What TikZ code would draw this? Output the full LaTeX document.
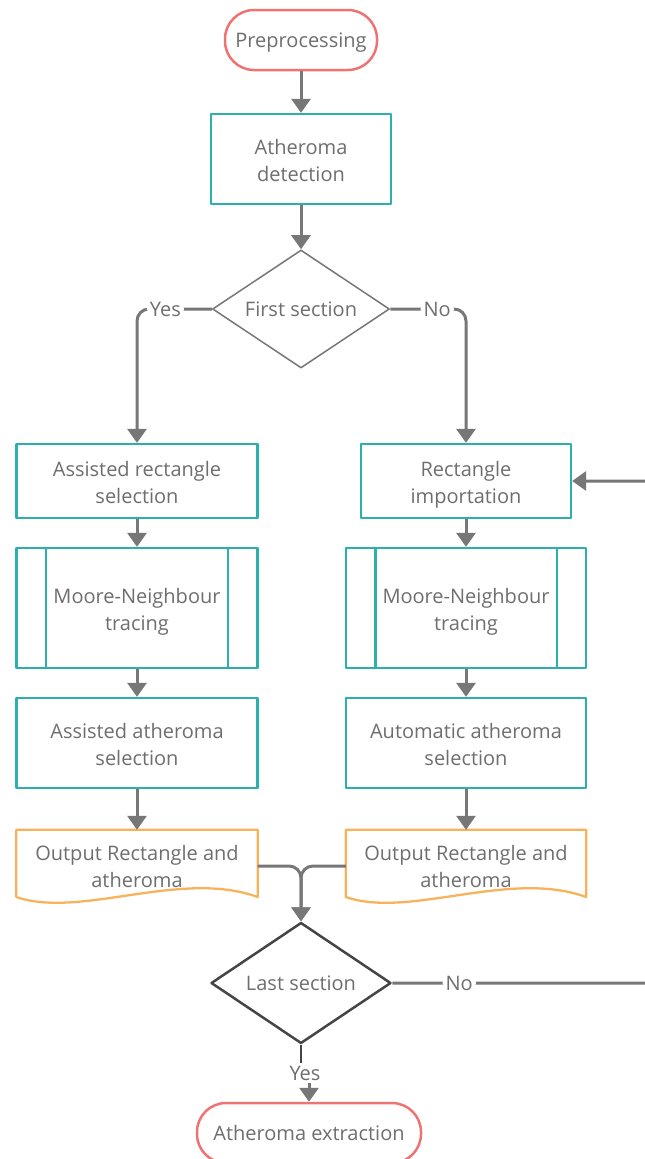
\documentclass[tikz,border=0pt]{standalone}
\usepackage{fontspec}
\setmainfont{Open Sans}
\usetikzlibrary{arrows.meta,shapes.geometric}
\definecolor{boxteal}{HTML}{2BB0AE}
\definecolor{termred}{HTML}{F07373}
\definecolor{docorange}{HTML}{F8B35A}
\definecolor{linegray}{HTML}{777777}
\definecolor{txtgray}{HTML}{6E6E6E}
\definecolor{darkline}{HTML}{454545}
\tikzset{
	term/.style={draw=termred, line width=2.5pt, rounded corners=29pt, minimum height=60, inner sep=0, text=txtgray, text height=15pt, text depth=1pt},
	proc/.style={draw=boxteal, line width=2.3pt, align=center, inner sep=0, text=txtgray, text height=50pt, text depth=6pt},
	decide/.style={diamond, draw=linegray, line width=1.5pt, aspect=1.5, inner sep=0, text=txtgray},
	docbox/.style={align=center, inner sep=0, minimum height=72, text=txtgray},
	docedge/.style={draw=docorange, line width=2.3pt, line join=round},
	arrow/.style={draw=linegray, line width=3pt, -{Triangle[width=19pt,length=14pt]}, rounded corners=12},
	lbl/.style={fill=white, inner sep=3pt, text=txtgray}
}
\begin{document}
\begin{tikzpicture}[x=1pt, y=-1pt, font=\fontsize{20}{27}\selectfont, line join=round]
	\useasboundingbox (0,0) rectangle (645,1159);
	% top of the chart
	\node[term, minimum width=152] (prep) at (301,40) {Preprocessing};
	\node[proc, minimum width=180, minimum height=90] (detect) at (301,159) {Atheroma\\detection};
	\node[decide, minimum width=177, minimum height=118] (first) at (301,309) {First section};
	% left branch
	\node[proc, minimum width=241, minimum height=74] (asel) at (137,481) {Assisted rectangle\\selection};
	\node[proc, minimum width=241, minimum height=120] (mooreL) at (137,608) {Moore-Neighbour\\tracing};
	\node[proc, minimum width=241, minimum height=90] (aath) at (137,743) {Assisted atheroma\\selection};
	\node[docbox, minimum width=241] (outL) at (137,866) {Output Rectangle and\\atheroma};
	% right branch
	\node[proc, minimum width=210, minimum height=74] (rimp) at (466,481) {Rectangle\\importation};
	\node[proc, minimum width=240, minimum height=120] (mooreR) at (466,608) {Moore-Neighbour\\tracing};
	\node[proc, minimum width=240, minimum height=90] (auto) at (466,743) {Automatic atheroma\\selection};
	\node[docbox, minimum width=240] (outR) at (466,866) {Output Rectangle and\\atheroma};
	% bottom
	\node[decide, draw=darkline, line width=2.5pt, minimum width=180, minimum height=121] (last) at (301,983) {Last section};
	\node[lbl] (yes2) at (305,1073) {Yes};
	\node[term, minimum width=224] (extract) at (309,1133) {Atheroma extraction};
	\coordinate (turn) at (660,983);

	\foreach \m in {mooreL,mooreR}{
		\draw[boxteal, line width=2.3pt] ([xshift=30.5pt]\m.north west) -- ([xshift=30.5pt]\m.south west);
		\draw[boxteal, line width=2.3pt] ([xshift=-30.5pt]\m.north east) -- ([xshift=-30.5pt]\m.south east);
	}
	\foreach \d in {outL,outR}
		\draw[docedge] (\d.north west) -- (\d.north east) -- ([yshift=-31pt]\d.east)
			.. controls +(-77,-28) and +(64,22) .. ([yshift=-31pt]\d.west) -- cycle;

	\draw[arrow] (prep) -- (detect);
	\draw[arrow] (detect) -- (first);
	\draw[arrow] (first.west) -| node[lbl, pos=0.31] {Yes} (asel.north);
	\draw[arrow] (first.east) -| node[lbl, pos=0.31] {No} (rimp.north);
	\draw[arrow] (asel) -- (mooreL);
	\draw[arrow] (mooreL) -- (aath);
	\draw[arrow] (aath) -- (outL);
	\draw[arrow] (rimp) -- (mooreR);
	\draw[arrow] (mooreR) -- (auto);
	\draw[arrow] (auto) -- (outR);
	\draw[arrow] (outL.east) -| (last.north);
	\draw[arrow] (outR.west) -| (last.north);
	\draw[arrow] (last.east) -- node[lbl, pos=0.25] {No} (turn) |- (rimp.east);
	\draw[darkline, line width=2pt] (last.south) -- (yes2.north -| last.south);
	\draw[arrow] (yes2.south -| extract.north) -- (extract.north);
\end{tikzpicture}
\end{document}
